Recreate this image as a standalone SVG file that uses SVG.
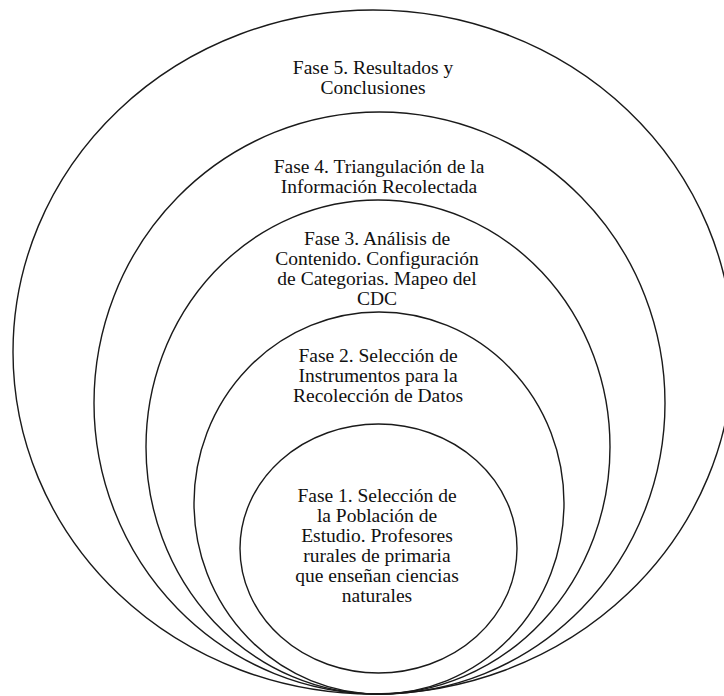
<svg xmlns="http://www.w3.org/2000/svg" width="724" height="696" viewBox="0 0 724 696">
  <style>
    .ring { fill: none; stroke: #1a1a1a; stroke-width: 1.4; }
    .label { font-size: 19.5px; fill: #111; text-anchor: middle; }
  </style>
  <rect width="724" height="696" fill="#ffffff"/>

  <g font-family="'Liberation Serif', 'Times New Roman', 'DejaVu Serif', serif">
    <!-- Outermost phase -->
    <g id="fase5">
      <ellipse class="ring" cx="373" cy="352" rx="360" ry="342"/>
      <text class="label" x="373" y="74">Fase 5. Resultados y</text>
      <text class="label" x="373" y="94">Conclusiones</text>
    </g>

    <g id="fase4">
      <ellipse class="ring" cx="379.5" cy="403" rx="285.5" ry="291"/>
      <text class="label" x="379" y="173">Fase 4. Triangulación de la</text>
      <text class="label" x="379" y="193">Información Recolectada</text>
    </g>

    <g id="fase3">
      <ellipse class="ring" cx="378" cy="447" rx="232" ry="247"/>
      <text class="label" x="377" y="245">Fase 3. Análisis de</text>
      <text class="label" x="377" y="265">Contenido. Configuración</text>
      <text class="label" x="377" y="285">de Categorias. Mapeo del</text>
      <text class="label" x="377" y="305">CDC</text>
    </g>

    <g id="fase2">
      <ellipse class="ring" cx="379" cy="503" rx="185" ry="191"/>
      <text class="label" x="378" y="362">Fase 2. Selección de</text>
      <text class="label" x="378" y="382">Instrumentos para la</text>
      <text class="label" x="378" y="402">Recolección de Datos</text>
    </g>

    <!-- Innermost phase -->
    <g id="fase1">
      <ellipse class="ring" cx="378.5" cy="548.5" rx="138.5" ry="124.5"/>
      <text class="label" x="377" y="502">Fase 1. Selección de</text>
      <text class="label" x="377" y="522">la Población de</text>
      <text class="label" x="377" y="542">Estudio. Profesores</text>
      <text class="label" x="377" y="562">rurales de primaria</text>
      <text class="label" x="377" y="582">que enseñan ciencias</text>
      <text class="label" x="377" y="602">naturales</text>
    </g>
  </g>

  <g id="connectors"></g>
</svg>
